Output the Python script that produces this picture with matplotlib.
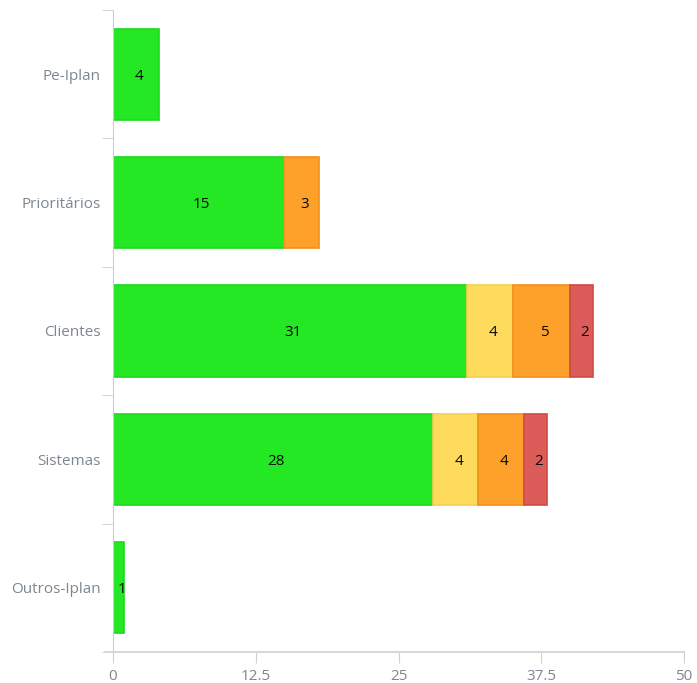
import numpy as np
from matplotlib import pyplot
from matplotlib.transforms import offset_copy

categories = ['Pe-Iplan', 'Prioritários', 'Clientes', 'Sistemas', 'Outros-Iplan']
verde = [4, 15, 31, 28, 1]
amarelo = [0, 0, 4, 4, 0]
laranja = [0, 3, 5, 4, 0]
vermelho = [0, 0, 2, 2, 0]
xticks = [0, 12.5, 25, 37.5, 50]
xticklabels = ['0', '12.5', '25', '37.5', '50']

series = [
    (verde, '#24e824', '#1ed81e'),
    (amarelo, '#fedb5c', '#f5cf50'),
    (laranja, '#fda12b', '#f38f1a'),
    (vermelho, '#dc5c59', '#cf4a47'),
]

pyplot.rcParams['font.family'] = ['Open Sans', 'DejaVu Sans']

fig = pyplot.figure(figsize=(6.97, 6.83), dpi=100)
ax = fig.add_axes([113/697., 1-652/683., (684-113)/697., (652-10)/683.])
# labels sit a little right/below the segment centre in the original
txt_tr = offset_copy(ax.transData, fig=fig, x=3, y=-2, units='dots')

y = np.arange(len(categories))
left = np.zeros(len(categories))
for vals, fc, ec in series:
    vals = np.array(vals, dtype=float)
    m = vals > 0
    ax.barh(y[m], vals[m], left=left[m], height=0.71, color=fc, edgecolor=ec, linewidth=1.2)
    for yi, l, v in zip(y[m], left[m], vals[m]):
        ax.text(l + v/2., yi, '%d' % v, ha='center', va='center', fontsize=11,
                color='#0a0a0a', transform=txt_tr)
    left = left + vals

ax.set_xlim(0, 50)
ax.set_ylim(len(categories)-0.5, -0.5)
ax.set_xticks(xticks)
ax.set_xticklabels(xticklabels)
ax.set_yticks(y)
ax.set_yticklabels(categories)
ax.set_yticks(np.arange(-0.5, len(categories)), minor=True)

for s in ['top', 'right']:
    ax.spines[s].set_visible(False)
ax.spines['left'].set_color('#cccccc')
ax.spines['bottom'].set_color('#d8d8d8')
ax.spines['bottom'].set_linewidth(1.5)
ax.spines['bottom'].set_bounds(-0.7, 50)
ax.spines['bottom'].set_clip_on(False)

ax.tick_params(axis='y', which='major', length=0, pad=9, labelsize=11, labelcolor='#7d8792')
ax.tick_params(axis='y', which='minor', length=8, color='#cccccc')
ax.tick_params(axis='x', which='major', length=8, color='#d0d0d0', pad=4, labelsize=11, labelcolor='#7d8792')

fig.savefig('out.png', dpi=100)
